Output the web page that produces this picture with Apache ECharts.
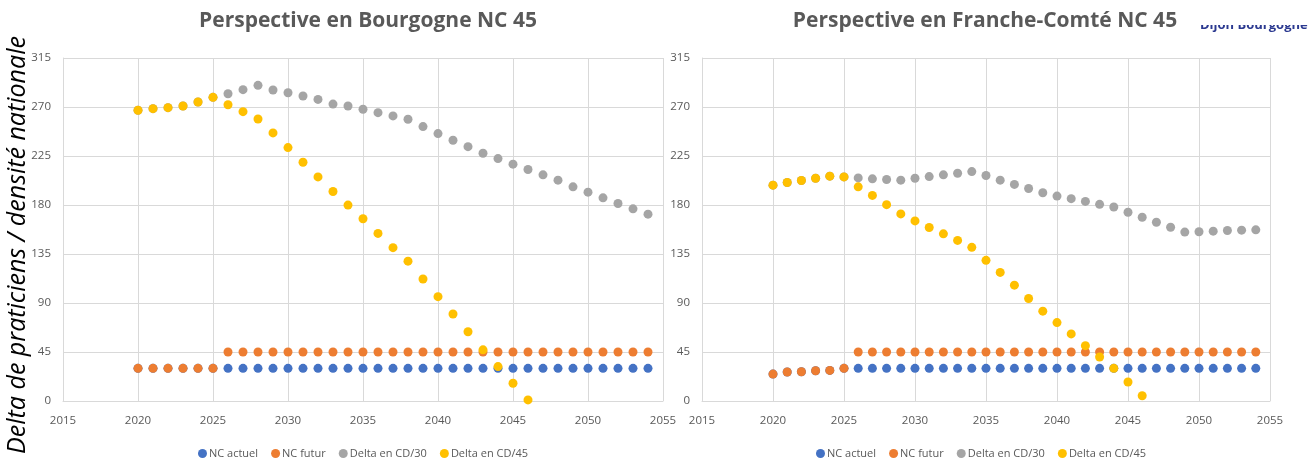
<!DOCTYPE html>
<html>
<head>
<meta charset="utf-8">
<script src="https://cdn.jsdelivr.net/npm/echarts@6/dist/echarts.min.js"></script>
<style>html,body{margin:0;padding:0;background:#fff;}#c{width:1315px;height:461px;}</style>
</head>
<body>
<div id="c"></div>
<script>
// ---- data ----
const years = [];
for (let y = 2020; y <= 2054; y++) years.push(y);

const seriesNames = ['NC actuel', 'NC futur', 'Delta en CD/30', 'Delta en CD/45'];
const titles = ['Perspective en Bourgogne NC 45', 'Perspective en Franche-Comté NC 45'];
const yAxisTitle = 'Delta de praticiens / densité nationale';

// Bourgogne
const bNcActuel = [30,30,30,30,30,30, 30,30,30,30,30,30,30,30,30,30,30,30,30,30,30,30,30,30,30,30,30,30,30,30,30,30,30,30,30];
const bNcFutur  = [30,30,30,30,30,30, 45,45,45,45,45,45,45,45,45,45,45,45,45,45,45,45,45,45,45,45,45,45,45,45,45,45,45,45,45];
const bDelta30  = [267,268.5,269.4,270.9,274.6,278.9, 282.2,285.9,289.9,285.6,283.1,280.1,277,272.7,270.9,267.9,264.8,261.8,258.7,252,245.6,239.5,233.6,227.5,222.6,217.5,212.6,207.7,202.8,196.7,191.8,186.6,181.4,176.5,171.6];
const bDelta45  = [267,268.5,269.4,270.9,274.6,278.9, 272.1,265.7,259,246.2,232.7,219.3,205.8,192.4,179.9,167.4,153.9,140.8,128.4,112,95.8,79.9,63.6,47,31.6,16.3,1];

// Franche-Comté
const fNcActuel = [24.7,26.6,26.9,27.8,28.1,30, 30,30,30,30,30,30,30,30,30,30,30,30,30,30,30,30,30,30,30,30,30,30,30,30,30,30,30,30,30];
const fNcFutur  = [24.7,26.6,26.9,27.8,28.1,30, 45,45,45,45,45,45,45,45,45,45,45,45,45,45,45,45,45,45,45,45,45,45,45,45,45,45,45,45,45];
const fDelta30  = [198.2,200.7,202.5,204.6,206.5,205.8, 204.9,204,203.4,202.8,204.6,206.1,207.7,209.2,210.7,207.1,202.8,198.9,195.2,191.3,188.2,185.8,183.3,180.6,178.2,173.3,168.8,164.2,159.6,155.1,155.4,156,156.6,156.9,157.2];
const fDelta45  = [198.2,200.7,202.5,204.6,206.5,205.8, 196.7,188.8,180.3,171.8,165.4,159.3,153.5,147.5,141.1,129.2,118.1,106.4,94.1,82.5,72,61.6,50.8,40.4,30,17.4,4.8];

const colors = ['#4472C4', '#ED7D31', '#A5A5A5', '#FFC000'];

// ---- chart ----
const chart = echarts.init(document.getElementById('c'), null, {renderer: 'canvas'});
const pair = (arr) => arr.map((v, i) => [years[i], v]);
const FONT = '"Open Sans", "Noto Sans", sans-serif';
const labelColor = '#595959';
const gridColor = '#D9D9D9';

const grids = [
  {left: 63, right: 1315 - 663, top: 58, bottom: 60},
  {left: 702, right: 1315 - 1270, top: 58, bottom: 60}
];

function xAxis(idx) {
  return {
    type: 'value', gridIndex: idx, min: 2015, max: 2055, interval: 5,
    axisLine: {show: true, lineStyle: {color: gridColor}},
    axisTick: {show: false},
    splitLine: {show: true, lineStyle: {color: gridColor, width: 1}},
    axisLabel: {color: labelColor, fontSize: 11.5, fontFamily: FONT, margin: 14,
                formatter: (v) => String(v)}
  };
}
function yAxis(idx) {
  return {
    type: 'value', gridIndex: idx, min: 0, max: 315, interval: 45,
    axisLine: {show: true, lineStyle: {color: gridColor}},
    axisTick: {show: false},
    splitLine: {show: true, lineStyle: {color: gridColor, width: 1}},
    axisLabel: {color: labelColor, fontSize: 11.5, fontFamily: FONT, margin: 12}
  };
}

const allData = [
  [bNcActuel, bNcFutur, bDelta30, bDelta45],
  [fNcActuel, fNcFutur, fDelta30, fDelta45]
];

const series = [];
allData.forEach((set, gi) => {
  set.forEach((arr, si) => {
    series.push({
      name: seriesNames[si], type: 'scatter',
      xAxisIndex: gi, yAxisIndex: gi,
      data: pair(arr), symbolSize: 9,
      itemStyle: {color: colors[si], opacity: 1},
      emphasis: {disabled: true}
    });
  });
});

const legendCommon = {
  data: seriesNames, icon: 'circle', itemWidth: 9, itemHeight: 9, itemGap: 13,
  textStyle: {color: labelColor, fontSize: 11, fontFamily: FONT, padding: [0, 0, 0, -3]},
  top: 443, orient: 'horizontal'
};

chart.setOption({
  animation: false,
  color: colors,
  title: [
    {text: titles[0], left: 363, top: 6, textAlign: 'center',
     textStyle: {color: '#595959', fontSize: 21, fontWeight: 'bold', fontFamily: FONT}},
    {text: titles[1], left: 980, top: 6, textAlign: 'center',
     textStyle: {color: '#595959', fontSize: 21, fontWeight: 'bold', fontFamily: FONT}}
  ],
  grid: grids,
  xAxis: [xAxis(0), xAxis(1)],
  yAxis: [yAxis(0), yAxis(1)],
  legend: [
    Object.assign({}, legendCommon, {left: 193, width: 420}),
    Object.assign({}, legendCommon, {left: 811, width: 420})
  ],
  graphic: [
    {type: 'text', x: 18, y: 245, rotation: Math.PI / 2,
     style: {text: yAxisTitle, fill: '#000', font: 'italic 25px "Open Sans", "Noto Sans", sans-serif',
             textAlign: 'center', textVerticalAlign: 'middle'}},
    {type: 'text', x: 1200, y: 19,
     style: {text: 'Dijon Bourgogne', fill: '#2B3990', font: 'bold 13px "Open Sans", sans-serif'}},
    {type: 'rect', shape: {x: 1190, y: 0, width: 125, height: 25}, style: {fill: '#fff'}, z: 100}
  ],
  series: series
});
</script>
</body>
</html>
